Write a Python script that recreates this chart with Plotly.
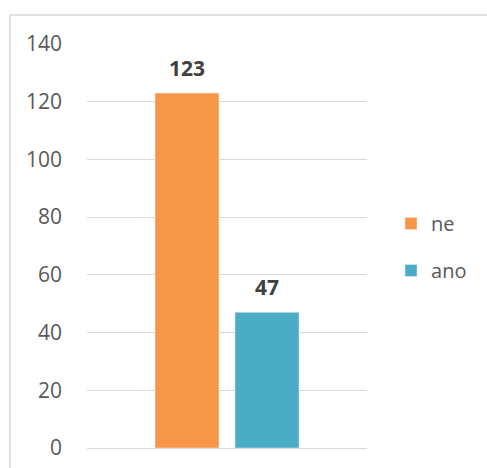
import plotly.graph_objects as go

series_names = ["ne", "ano"]
series_values = [123, 47]
series_colors = ["#F79646", "#4BACC6"]
category = [""]
y_ticks = [0, 20, 40, 60, 80, 100, 120, 140]

FONT = "Open Sans"
bargap = 0.4286
bargroupgap = 0.2

fig = go.Figure()
for name, val, col in zip(series_names, series_values, series_colors):
    fig.add_trace(go.Bar(
        x=category, y=[val], name=name, marker_color=col,
        legendgroup=name,
    ))

n = len(series_names)
slot = (1 - bargap) / n
for i, val in enumerate(series_values):
    fig.add_annotation(
        x=-(1 - bargap) / 2 + slot * (i + 0.5), y=val, xref="x", yref="y",
        text=f"<b>{val}</b>", showarrow=False, yshift=25,
        font=dict(family=FONT, size=21, color="#404040"),
    )

fig.add_shape(type="rect", xref="paper", yref="paper",
              x0=-0.275, x1=1.45, y0=-0.06, y1=1.0718,
              line=dict(color="#D9D9D9", width=1.5), layer="below")

fig.update_layout(
    width=487, height=468,
    margin=dict(l=87, r=120, t=44, b=20, autoexpand=False),
    paper_bgcolor="white", plot_bgcolor="white",
    barmode="group", bargap=bargap, bargroupgap=bargroupgap,
    font=dict(family=FONT, size=21, color="#595959"),
    showlegend=True,
    legend=dict(xref="container", yref="container", x=0.8029, y=0.4722,
                xanchor="left", yanchor="middle",
                font=dict(family=FONT, size=20, color="#595959"),
                tracegroupgap=18, itemwidth=30),
    xaxis=dict(showticklabels=False, showgrid=False, zeroline=False,
               showline=False, fixedrange=True, automargin=False),
    yaxis=dict(range=[0, 140], tickvals=y_ticks, showgrid=True,
               gridcolor="#D9D9D9", gridwidth=1.3, zeroline=True,
               zerolinecolor="#D9D9D9", zerolinewidth=1.3,
               showline=False, ticks="", ticklabelstandoff=24,
               automargin=False,
               tickfont=dict(family=FONT, size=21, color="#595959")),
)

fig.write_html(
    "out.html",
    config={"displayModeBar": False},
    post_script="document.body.style.margin='0';"
                "document.documentElement.style.overflow='hidden';"
                "document.body.style.overflow='hidden';",
)
